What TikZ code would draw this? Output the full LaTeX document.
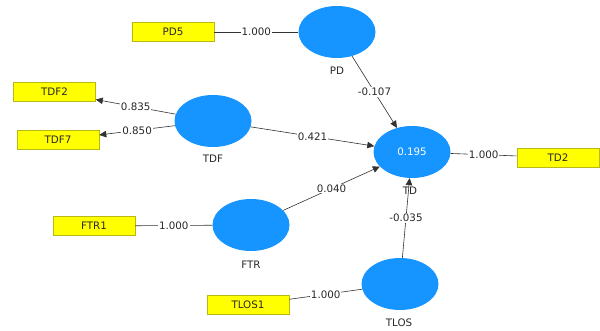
\documentclass[tikz,border=0pt]{standalone}
\usepackage{fontspec}
\setmainfont{DejaVu Sans}
\usetikzlibrary{arrows.meta,shapes.geometric}
\definecolor{lvblue}{RGB}{22,148,255}
\definecolor{boxyellow}{RGB}{255,255,0}
\definecolor{boxborder}{RGB}{185,185,20}
\definecolor{linegray}{RGB}{50,50,50}
\definecolor{txtgray}{RGB}{40,40,40}
\begin{document}
\begin{tikzpicture}[x=1pt,y=-1pt,
  font=\fontsize{10.3}{12}\selectfont,
  latent/.style={ellipse,fill=lvblue,minimum width=77pt,minimum height=52pt,inner sep=0pt,text=white},
  ind/.style={rectangle,fill=boxyellow,draw=boxborder,line width=0.6pt,minimum width=82pt,minimum height=19pt,inner sep=0pt,text=txtgray},
  lvlabel/.style={text=txtgray},
  conn/.style={draw=linegray,line width=0.6pt},
  arr/.style={conn,-{Triangle[length=7pt,width=6.5pt]}},
  wlabel/.style={fill=white,inner sep=1pt,text=txtgray,midway}
]
\useasboundingbox (0,0) rectangle (600,331);
% latent variables
\node[latent] (PD) at (337,32) {};
\node[latent] (TDF) at (213,121) {};
\node[latent] (TD) at (412,152) {0.195};
\node[latent] (FTR) at (251,225) {};
\node[latent] (TLOS) at (400,284) {};
% latent labels
\node[lvlabel] (PDl) at (337,71) {PD};
\node[lvlabel] (TDFl) at (213,159) {TDF};
\node[lvlabel] (TDl) at (410,191) {TD};
\node[lvlabel] (FTRl) at (251,265) {FTR};
\node[lvlabel] (TLOSl) at (399,323) {TLOS};
% indicators
\node[ind] (PD5) at (173,32) {PD5};
\node[ind] (TDF2) at (54.5,92) {TDF2};
\node[ind] (TDF7) at (58,140) {TDF7};
\node[ind] (TD2) at (558,157.5) {TD2};
\node[ind] (FTR1) at (94,226) {FTR1};
\node[ind] (TLOS1) at (248,305) {TLOS1};
% outer model
\draw[conn] (PD5) -- node[wlabel] {1.000} (PD);
\draw[arr] (TDF) -- node[wlabel] {0.835} (TDF2);
\draw[arr] (TDF) -- node[wlabel] {0.850} (TDF7);
\draw[conn] (TD) -- node[wlabel] {1.000} (TD2);
\draw[conn] (FTR1) -- node[wlabel] {1.000} (FTR);
\draw[conn] (TLOS1) -- node[wlabel] {1.000} (TLOS);
% inner model
\draw[arr] (PD) -- node[wlabel] {-0.107} (TD);
\draw[arr] (TDF) -- node[wlabel] {0.421} (TD);
\draw[arr] (FTR) -- node[wlabel] {0.040} (TD);
\draw[arr] (TLOS) -- node[wlabel] {-0.035} (TD);
\end{tikzpicture}
\end{document}
